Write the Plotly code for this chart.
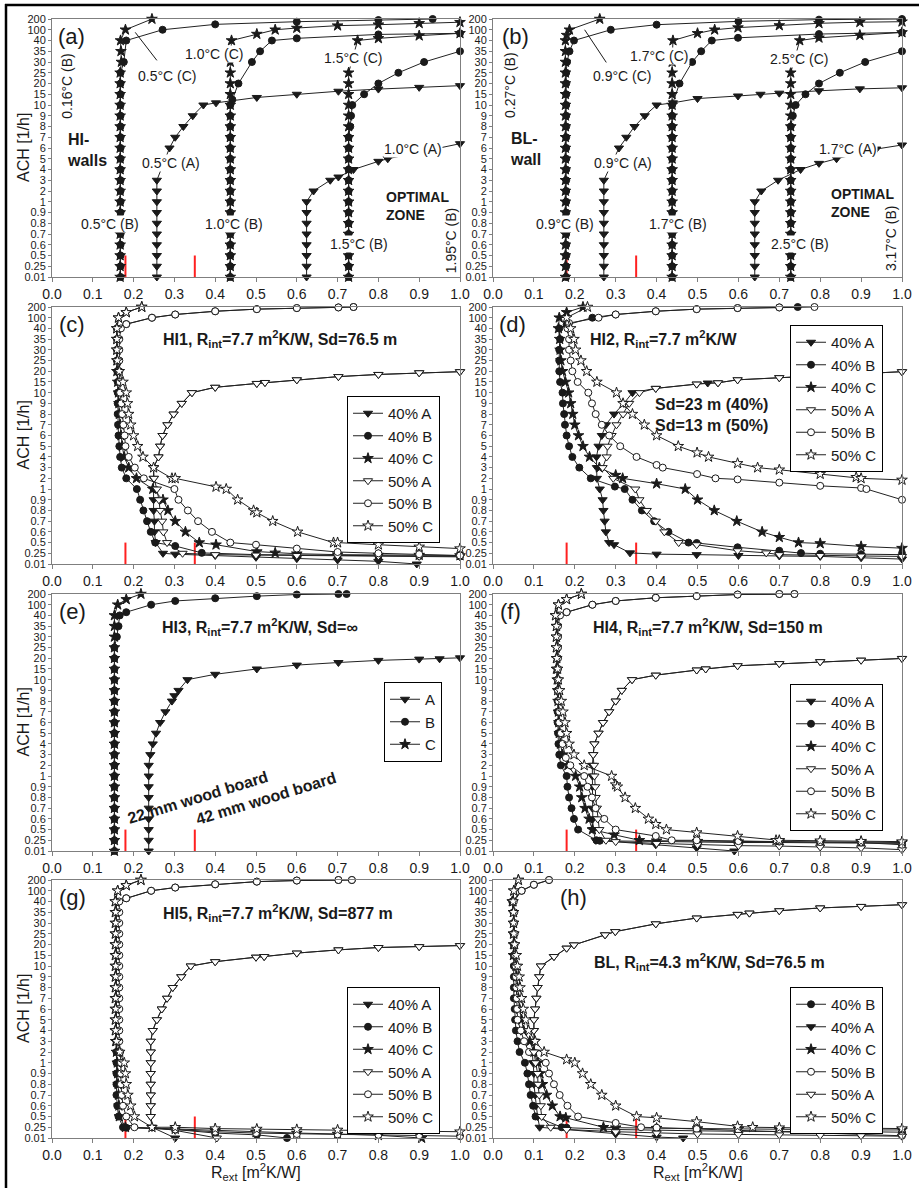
import numpy as np
import plotly.graph_objects as go

FONT = "Liberation Sans, Arial, sans-serif"
INK = "#1a1a1a"
W, H = 919, 1188

# ---------------- axis categories ----------------
ach_ticks = [0.01, 0.25, 0.5, 0.6, 0.7, 0.8, 0.9, 1, 2, 3, 4, 5, 6, 7, 8, 9, 10,
             15, 20, 25, 30, 35, 40, 100, 200]
ach_tick_text = ['0.01', '0.25', '0.5', '0.6', '0.7', '0.8', '0.9', '1', '2', '3', '4',
                 '5', '6', '7', '8', '9', '10', '15', '20', '25', '30', '35', '40', '100', '200']
r_ticks = [0.0, 0.1, 0.2, 0.3, 0.4, 0.5, 0.6, 0.7, 0.8, 0.9, 1.0]
r_tick_text = ['0.0', '0.1', '0.2', '0.3', '0.4', '0.5', '0.6', '0.7', '0.8', '0.9', '1.0']
red_marks_r = [0.18, 0.35]
red_marks_ach = [0.01, 0.5]

# ---------------- (a) HI-walls : (R_ext, ACH) ----------------
a_05B = [(0.168,0.01),(0.168,0.25),(0.168,0.5),(0.168,0.6),(0.168,0.7),(0.168,0.8),(0.168,0.9),(0.168,1),
         (0.168,2),(0.168,3),(0.168,4),(0.168,5),(0.168,6),(0.168,7),(0.168,8),(0.168,9),(0.168,10),
         (0.168,15),(0.168,20),(0.168,25),(0.176,30),(0.182,40),(0.271,100),(0.400,150),(0.600,175),
         (0.800,190),(0.933,200)]
a_05C = [(0.167,0.01),(0.167,0.25),(0.167,0.5),(0.167,0.6),(0.167,0.7),(0.167,0.8),(0.167,0.9),(0.167,1),
         (0.167,2),(0.167,3),(0.167,4),(0.167,5),(0.167,6),(0.167,7),(0.167,8),(0.167,9),(0.167,10),
         (0.167,15),(0.167,20),(0.167,25),(0.170,30),(0.169,35),(0.168,40),(0.180,100),(0.245,200)]
a_05A = [(0.257,0.01),(0.257,0.25),(0.257,0.5),(0.257,0.6),(0.257,0.7),(0.257,0.8),(0.257,0.9),(0.257,1),
         (0.257,2),(0.257,3),(0.288,6),(0.302,7),(0.322,8),(0.345,9),(0.371,10),(0.402,11),(0.502,13.5),
         (0.600,15),(0.702,16.4),(0.800,17.4),(0.900,18.2),(1.000,19)]
a_10B = [(0.437,0.01),(0.437,0.25),(0.437,0.5),(0.437,0.6),(0.437,0.7),(0.437,0.8),(0.437,0.9),(0.437,1),
         (0.437,2),(0.437,3),(0.437,4),(0.437,5),(0.437,6),(0.437,7),(0.437,8),(0.437,9),(0.437,10),
         (0.442,12.5),(0.457,20),(0.490,30),(0.510,35),(0.539,40),(0.600,52),(0.800,74),(1.000,80)]
a_10C = [(0.437,0.01),(0.437,0.25),(0.437,0.5),(0.437,0.6),(0.437,0.7),(0.437,0.8),(0.437,0.9),(0.437,1),
         (0.437,2),(0.437,3),(0.437,4),(0.437,5),(0.437,6),(0.437,7),(0.437,8),(0.437,9),(0.437,10),
         (0.437,15),(0.437,20),(0.437,25),(0.437,30),(0.440,40),(0.502,76),(0.547,100),(0.600,116),
         (0.700,138),(0.800,147),(0.900,160),(1.000,170)]
a_10A = [(0.624,0.01),(0.624,0.25),(0.624,0.5),(0.624,0.6),(0.624,0.7),(0.624,0.8),(0.624,0.9),(0.624,1),
         (0.641,2),(0.682,3),(0.702,3.3),(0.739,4),(0.800,4.76),(0.823,5),(1.000,6.4)]
a_15B = [(0.727,0.01),(0.727,0.25),(0.727,0.5),(0.727,0.6),(0.727,0.7),(0.727,0.8),(0.727,0.9),(0.727,1),
         (0.727,2),(0.727,3),(0.727,4),(0.727,5),(0.727,6),(0.727,7),(0.731,8),(0.733,9),(0.736,10),
         (0.765,15),(0.800,20),(0.849,25),(0.912,30),(1.000,35)]
a_15C = [(0.727,0.01),(0.727,0.25),(0.727,0.5),(0.727,0.6),(0.727,0.7),(0.727,0.8),(0.727,0.9),(0.727,1),
         (0.727,2),(0.727,3),(0.727,4),(0.727,5),(0.727,6),(0.727,7),(0.727,8),(0.727,9),(0.727,10),
         (0.727,15),(0.727,20),(0.727,25),(0.749,40),(0.800,52),(0.900,67),(1.000,80)]

# ---------------- (b) BL-wall ----------------
b_09B = [(0.179,0.01),(0.179,0.25),(0.179,0.5),(0.179,0.6),(0.179,0.7),(0.179,0.8),(0.179,0.9),(0.179,1),
         (0.179,2),(0.179,3),(0.179,4),(0.179,5),(0.179,6),(0.179,7),(0.179,8),(0.179,9),(0.179,10),
         (0.179,15),(0.179,20),(0.179,25),(0.181,30),(0.187,35),(0.198,40),(0.288,100),(0.400,147),
         (0.600,178),(0.797,194),(1.000,200)]
b_09C = [(0.177,0.01),(0.177,0.25),(0.177,0.5),(0.177,0.6),(0.177,0.7),(0.177,0.8),(0.177,0.9),(0.177,1),
         (0.177,2),(0.177,3),(0.177,4),(0.177,5),(0.177,6),(0.177,7),(0.177,8),(0.177,9),(0.177,10),
         (0.177,15),(0.177,20),(0.177,25),(0.177,30),(0.177,35),(0.177,40),(0.180,70),(0.187,100),(0.261,200)]
b_09A = [(0.271,0.01),(0.271,0.25),(0.271,0.5),(0.271,0.6),(0.271,0.7),(0.271,0.8),(0.271,0.9),(0.271,1),
         (0.271,2),(0.271,3),(0.308,6),(0.326,7),(0.346,8),(0.371,9),(0.400,10),(0.440,11),(0.500,13),
         (0.599,14.2),(0.654,15),(0.700,15.5),(0.797,16.6),(0.897,17.5),(1.000,18)]
b_17B = [(0.438,0.01),(0.438,0.25),(0.438,0.5),(0.438,0.6),(0.438,0.7),(0.438,0.8),(0.438,0.9),(0.438,1),
         (0.438,2),(0.438,3),(0.438,4),(0.438,5),(0.438,6),(0.438,7),(0.438,8),(0.438,9),(0.438,10),
         (0.456,20),(0.487,30),(0.509,35),(0.535,40),(0.599,55),(0.797,76),(1.000,85)]
b_17C = [(0.438,0.01),(0.438,0.25),(0.438,0.5),(0.438,0.6),(0.438,0.7),(0.438,0.8),(0.438,0.9),(0.438,1),
         (0.438,2),(0.438,3),(0.438,4),(0.438,5),(0.438,6),(0.438,7),(0.438,8),(0.438,9),(0.438,10),
         (0.438,15),(0.438,20),(0.438,25),(0.438,30),(0.440,40),(0.500,80),(0.542,100),(0.599,120),
         (0.700,140),(0.797,160),(0.897,170),(1.000,175)]
b_17A = [(0.640,0.01),(0.640,0.25),(0.640,0.5),(0.640,0.6),(0.640,0.7),(0.640,0.8),(0.640,0.9),(0.640,1),
         (0.656,2),(0.697,3),(0.752,4),(0.797,4.57),(0.840,5),(0.937,5.9),(1.000,6.28)]
b_25B = [(0.728,0.01),(0.728,0.25),(0.728,0.5),(0.728,0.6),(0.728,0.7),(0.728,0.8),(0.728,0.9),(0.728,1),
         (0.728,2),(0.728,3),(0.728,4),(0.728,5),(0.728,6),(0.728,7),(0.728,8),(0.733,9),(0.740,10),
         (0.764,15),(0.797,20),(0.848,25),(0.910,30),(1.000,35)]
b_25C = [(0.728,0.01),(0.728,0.25),(0.728,0.5),(0.728,0.6),(0.728,0.7),(0.728,0.8),(0.728,0.9),(0.728,1),
         (0.728,2),(0.728,3),(0.728,4),(0.728,5),(0.728,6),(0.728,7),(0.728,8),(0.728,9),(0.728,10),
         (0.728,15),(0.728,20),(0.728,25),(0.750,40),(0.797,55),(0.897,70),(1.000,85)]

# ---------------- (c) HI1 ----------------
c_40A = [(1.000,19.8),(0.900,19.3),(0.800,18.5),(0.702,17.5),(0.600,16),(0.522,14.75),(0.502,14.3),(0.400,12.5),
         (0.343,10),(0.318,9),(0.298,8),(0.283,7),(0.271,6),(0.265,5),(0.261,4),(0.249,3),(0.249,2),(0.249,1),
         (0.249,0.9),(0.249,0.8),(0.251,0.7),(0.251,0.6),(0.254,0.5),(0.272,0.25),(0.302,0.23),(0.400,0.2),
         (0.500,0.16),(0.600,0.13),(0.700,0.1),(0.800,0.07),(0.894,0.01)]
c_40B = [(0.739,200),(0.702,196),(0.600,190),(0.502,180),(0.400,160),(0.302,130),(0.245,100),(0.182,64),
         (0.159,40),(0.159,35),(0.159,30),(0.159,25),(0.160,20),(0.161,15),(0.161,10),(0.161,9),(0.161,8),
         (0.162,7),(0.163,6),(0.165,5),(0.167,4),(0.171,3),(0.182,2),(0.208,1),(0.216,0.9),(0.224,0.8),
         (0.233,0.7),(0.242,0.6),(0.253,0.5),(0.302,0.42),(0.367,0.26),(0.500,0.22),(0.600,0.21),(0.700,0.2),
         (0.800,0.19),(0.900,0.19),(1.000,0.18)]
c_40C = [(0.220,200),(0.182,150),(0.163,100),(0.159,40),(0.159,35),(0.159,30),(0.159,25),(0.159,20),(0.161,15),
         (0.163,10),(0.164,9),(0.165,8),(0.167,7),(0.169,6),(0.172,5),(0.177,4),(0.188,3),(0.207,2),(0.247,1),
         (0.272,0.9),(0.284,0.8),(0.302,0.7),(0.327,0.6),(0.361,0.5),(0.402,0.45),(0.502,0.29),(0.547,0.26),
         (0.600,0.24),(0.700,0.22),(0.800,0.21),(0.900,0.21),(1.000,0.2)]
c_50A = [(1.000,19.8),(0.900,19.3),(0.800,18.5),(0.702,17.5),(0.600,16),(0.522,14.75),(0.502,14.3),(0.400,12.5),
         (0.343,10),(0.318,9),(0.298,8),(0.283,7),(0.271,6),(0.265,5),(0.261,4),(0.249,3),(0.250,2),(0.257,1),
         (0.262,0.9),(0.265,0.8),(0.270,0.7),(0.273,0.6),(0.282,0.5),(0.320,0.25),(0.400,0.22),(0.500,0.21),
         (0.600,0.2),(0.700,0.19),(0.800,0.19),(0.900,0.18),(1.000,0.17)]
c_50B = [(0.739,200),(0.702,196),(0.600,190),(0.502,180),(0.400,160),(0.302,130),(0.245,100),(0.182,64),
         (0.169,40),(0.165,35),(0.165,30),(0.165,25),(0.165,20),(0.166,15),(0.167,10),(0.170,9),(0.172,8),
         (0.175,7),(0.178,6),(0.180,5),(0.188,4),(0.203,3),(0.225,2),(0.300,1),(0.310,0.9),(0.333,0.8),
         (0.358,0.7),(0.392,0.6),(0.437,0.5),(0.500,0.45),(0.600,0.36),(0.700,0.28),(0.800,0.25),(0.900,0.23),
         (1.000,0.2)]
c_50C = [(0.220,200),(0.182,150),(0.163,100),(0.159,40),(0.159,35),(0.159,30),(0.160,25),(0.165,20),(0.174,15),
         (0.182,10),(0.185,9),(0.188,8),(0.193,7),(0.200,6),(0.210,5),(0.223,4),(0.249,3),(0.294,2),(0.302,2),
         (0.402,1.2),(0.427,1),(0.455,0.9),(0.494,0.8),(0.502,0.78),(0.541,0.7),(0.602,0.6),(0.690,0.5),
         (0.700,0.5),(0.800,0.45),(0.900,0.4),(1.000,0.36)]

# ---------------- (d) HI2 ----------------
d_40A = [(1.000,19.8),(0.700,17),(0.598,16),(0.550,14.6),(0.525,14.5),(0.498,14),(0.398,12),(0.341,10),
         (0.320,9),(0.296,8),(0.276,7),(0.266,6),(0.258,5),(0.253,4),(0.254,3),(0.254,2),(0.261,1),(0.268,0.9),
         (0.270,0.8),(0.273,0.7),(0.276,0.6),(0.284,0.5),(0.296,0.45),(0.335,0.26),(0.400,0.23),(0.498,0.22),
         (0.600,0.2),(0.700,0.19),(0.800,0.18),(0.900,0.15),(1.000,0.12)]
d_40B = [(0.745,200),(0.700,196),(0.598,190),(0.498,180),(0.398,160),(0.300,130),(0.243,100),(0.180,60),
         (0.162,40),(0.164,35),(0.162,30),(0.162,25),(0.162,20),(0.164,15),(0.170,10),(0.171,9),(0.174,8),
         (0.176,7),(0.180,6),(0.186,5),(0.194,4),(0.211,3),(0.239,2),(0.298,1.23),(0.322,1),(0.341,0.9),
         (0.364,0.8),(0.394,0.7),(0.429,0.6),(0.478,0.5),(0.498,0.49),(0.598,0.39),(0.700,0.31),(0.753,0.255),
         (0.800,0.24),(0.900,0.23),(1.000,0.22)]
d_40C = [(0.220,200),(0.180,150),(0.162,100),(0.160,40),(0.163,35),(0.164,30),(0.166,25),(0.170,20),(0.177,15),
         (0.185,10),(0.190,9),(0.195,8),(0.200,7),(0.209,6),(0.220,5),(0.236,4),(0.260,3),(0.300,2.3),(0.317,2),
         (0.400,1.5),(0.470,1),(0.500,0.9),(0.541,0.8),(0.596,0.7),(0.658,0.6),(0.700,0.55),(0.747,0.5),
         (0.800,0.48),(0.900,0.41),(1.000,0.37)]
d_50A = [(1.000,19.8),(0.700,17),(0.598,16),(0.550,14.6),(0.498,14),(0.398,12),(0.358,10),(0.333,9),(0.318,8),
         (0.302,7),(0.290,6),(0.280,5),(0.278,4),(0.268,3),(0.294,2),(0.348,1),(0.358,0.9),(0.376,0.8),
         (0.398,0.7),(0.419,0.6),(0.454,0.5),(0.498,0.45),(0.598,0.31),(0.668,0.26),(0.700,0.22),(0.800,0.2),
         (0.900,0.19),(1.000,0.18)]
d_50B = [(0.786,200),(0.700,196),(0.598,190),(0.498,180),(0.398,160),(0.300,130),(0.258,100),(0.186,70),
         (0.182,40),(0.186,35),(0.186,30),(0.190,25),(0.194,20),(0.207,15),(0.233,10),(0.242,9),(0.251,8),
         (0.266,7),(0.284,6),(0.311,5),(0.351,4),(0.400,3.25),(0.415,3),(0.499,2.4),(0.544,2),(0.598,1.9),
         (0.700,1.6),(0.800,1.3),(0.900,1.1),(0.913,1),(1.000,0.9)]
d_50C = [(0.231,200),(0.180,100),(0.190,40),(0.198,35),(0.202,30),(0.215,25),(0.229,20),(0.254,15),(0.302,10),
         (0.318,9),(0.341,8),(0.370,7),(0.400,6),(0.453,5),(0.499,4.4),(0.527,4),(0.598,3.4),(0.647,3),
         (0.700,2.8),(0.800,2.4),(0.888,2.1),(0.900,2),(1.000,1.85)]

# ---------------- (e) HI3 ----------------
e_A = [(0.237,0.01),(0.237,0.25),(0.237,0.5),(0.237,0.6),(0.237,0.7),(0.237,0.8),(0.237,0.9),(0.237,1),
       (0.237,2),(0.241,3),(0.247,4),(0.255,5),(0.265,6),(0.278,7),(0.294,8),(0.300,8.5),(0.310,9),(0.332,10),
       (0.400,12.5),(0.502,15),(0.600,16.8),(0.702,18),(0.800,19),(0.900,19.6),(0.950,19.75),(1.000,20.2)]
e_B = [(0.153,0.01),(0.153,0.25),(0.153,0.5),(0.153,0.6),(0.153,0.7),(0.153,0.8),(0.153,0.9),(0.153,1),
       (0.153,2),(0.153,3),(0.153,4),(0.153,5),(0.153,6),(0.153,7),(0.153,8),(0.153,9),(0.153,10),
       (0.153,15),(0.153,20),(0.153,25),(0.159,30),(0.163,35),(0.166,40),(0.182,58),(0.243,100),(0.302,135),
       (0.400,160),(0.502,180),(0.600,195),(0.702,200),(0.722,200)]
e_C = [(0.153,0.01),(0.153,0.25),(0.153,0.5),(0.153,0.6),(0.153,0.7),(0.153,0.8),(0.153,0.9),(0.153,1),
       (0.153,2),(0.153,3),(0.153,4),(0.153,5),(0.153,6),(0.153,7),(0.153,8),(0.153,9),(0.153,10),
       (0.153,15),(0.153,20),(0.153,25),(0.153,30),(0.153,35),(0.153,40),(0.161,100),(0.182,150),(0.218,200)]

# ---------------- (f) HI4 ----------------
f_40A = [(1.000,19.9),(0.900,19.1),(0.800,18.4),(0.700,17.5),(0.598,16.5),(0.520,15),(0.498,14.5),(0.398,12.1),
         (0.340,10),(0.315,9),(0.300,8),(0.284,7),(0.269,6),(0.258,5),(0.248,4),(0.245,3),(0.243,2),(0.243,1),
         (0.243,0.9),(0.243,0.8),(0.243,0.7),(0.244,0.6),(0.245,0.5),(0.251,0.25),(0.398,0.15),(0.498,0.08),
         (0.590,0.01)]
f_40B = [(0.737,200),(0.700,200),(0.598,195),(0.498,180),(0.398,165),(0.300,135),(0.243,100),(0.180,58),
         (0.158,40),(0.158,35),(0.158,30),(0.158,25),(0.158,20),(0.158,15),(0.158,10),(0.158,9),(0.158,8),
         (0.158,7),(0.158,6),(0.159,5),(0.160,4),(0.162,3),(0.166,2),(0.180,1),(0.182,0.9),(0.186,0.8),
         (0.192,0.7),(0.198,0.6),(0.208,0.5),(0.253,0.25),(0.261,0.24),(0.400,0.22),(0.500,0.21),(0.600,0.2),
         (0.700,0.2),(0.800,0.19),(0.900,0.19),(1.000,0.18)]
f_40C = [(0.216,200),(0.180,150),(0.160,100),(0.153,40),(0.155,35),(0.155,30),(0.155,25),(0.155,20),(0.155,15),
         (0.157,10),(0.158,9),(0.159,8),(0.160,7),(0.161,6),(0.162,5),(0.165,4),(0.170,3),(0.183,2),(0.202,1),
         (0.212,0.9),(0.217,0.8),(0.225,0.7),(0.235,0.6),(0.243,0.5),(0.296,0.38),(0.358,0.25),(0.400,0.24),
         (0.500,0.23),(0.600,0.22),(0.700,0.22),(0.800,0.21),(0.900,0.21),(1.000,0.2)]
f_50A = [(1.000,19.9),(0.900,19.1),(0.800,18.4),(0.700,17.5),(0.598,16.5),(0.520,15),(0.498,14.5),(0.398,12.1),
         (0.340,10),(0.315,9),(0.300,8),(0.284,7),(0.269,6),(0.258,5),(0.248,4),(0.245,3),(0.247,2),(0.248,1),
         (0.250,0.9),(0.251,0.8),(0.254,0.7),(0.256,0.6),(0.260,0.5),(0.276,0.25),(0.300,0.22),(0.400,0.18),
         (0.500,0.15),(0.600,0.13),(0.700,0.12),(0.800,0.1),(0.900,0.08),(1.000,0.04)]
f_50B = [(0.737,200),(0.700,200),(0.598,195),(0.498,180),(0.398,165),(0.300,135),(0.243,100),(0.180,58),
         (0.164,40),(0.159,35),(0.159,30),(0.159,25),(0.159,20),(0.159,15),(0.159,10),(0.159,9),(0.160,8),
         (0.162,7),(0.162,6),(0.166,5),(0.170,4),(0.178,2.7),(0.189,2),(0.223,1),(0.231,0.9),(0.242,0.8),
         (0.251,0.7),(0.272,0.6),(0.300,0.5),(0.398,0.35),(0.437,0.25),(0.498,0.25),(0.600,0.23),(0.700,0.22),
         (0.800,0.21),(0.900,0.2),(1.000,0.15)]
f_50C = [(0.216,200),(0.180,150),(0.160,100),(0.153,40),(0.155,35),(0.155,30),(0.155,25),(0.156,20),(0.158,15),
         (0.160,10),(0.163,9),(0.167,8),(0.171,7),(0.176,6),(0.180,5),(0.186,4),(0.198,3),(0.223,2),(0.290,1),
         (0.300,0.92),(0.304,0.9),(0.323,0.8),(0.348,0.7),(0.380,0.6),(0.398,0.55),(0.424,0.5),(0.498,0.43),
         (0.598,0.35),(0.692,0.25),(0.700,0.25),(0.800,0.24),(0.900,0.23),(1.000,0.22)]

# ---------------- (g) HI5 ----------------
g_40A = [(1.000,19.5),(0.900,19),(0.800,18.6),(0.702,17.5),(0.600,16),(0.520,14.4),(0.500,14.1),(0.400,12),
         (0.340,10),(0.317,9),(0.296,8),(0.282,7),(0.269,6),(0.257,5),(0.247,4),(0.242,3),(0.242,2),(0.242,1),
         (0.242,0.9),(0.242,0.8),(0.242,0.7),(0.242,0.6),(0.242,0.5),(0.245,0.25),(0.302,0.01)]
g_40B = [(0.735,200),(0.702,200),(0.600,195),(0.502,185),(0.400,160),(0.302,130),(0.243,100),(0.182,58),
         (0.158,40),(0.158,35),(0.158,30),(0.158,25),(0.158,20),(0.158,15),(0.158,10),(0.158,9),(0.158,8),
         (0.158,7),(0.158,6),(0.158,5),(0.158,4),(0.158,3),(0.158,2),(0.158,1),(0.158,0.9),(0.158,0.8),
         (0.158,0.7),(0.160,0.6),(0.163,0.5),(0.174,0.25),(0.182,0.24),(0.302,0.2),(0.400,0.12),(0.502,0.08),
         (0.576,0.01)]
g_40C = [(0.218,200),(0.182,150),(0.161,100),(0.155,40),(0.155,35),(0.155,30),(0.155,25),(0.155,20),(0.155,15),
         (0.155,10),(0.155,9),(0.155,8),(0.155,7),(0.155,6),(0.155,5),(0.155,4),(0.156,3),(0.158,2),(0.160,1),
         (0.161,0.9),(0.162,0.8),(0.163,0.7),(0.164,0.6),(0.165,0.5),(0.180,0.25),(0.302,0.21),(0.400,0.17),
         (0.500,0.14),(0.600,0.12),(0.700,0.1),(0.800,0.07),(0.906,0.01)]
g_50A = [(1.000,19.5),(0.900,19),(0.800,18.6),(0.702,17.5),(0.600,16),(0.520,14.4),(0.500,14.1),(0.400,12),
         (0.340,10),(0.317,9),(0.296,8),(0.282,7),(0.269,6),(0.257,5),(0.247,4),(0.242,3),(0.242,2),(0.242,1),
         (0.242,0.9),(0.242,0.8),(0.242,0.7),(0.242,0.6),(0.242,0.5),(0.245,0.25),(0.302,0.18),(0.404,0.01)]
g_50B = [(0.735,200),(0.702,200),(0.600,195),(0.502,185),(0.400,160),(0.302,130),(0.243,100),(0.182,58),
         (0.165,40),(0.165,35),(0.165,30),(0.165,25),(0.165,20),(0.165,15),(0.165,10),(0.165,9),(0.165,8),
         (0.165,7),(0.165,6),(0.165,5),(0.165,4),(0.165,3),(0.167,2),(0.169,1),(0.169,0.9),(0.169,0.8),
         (0.171,0.7),(0.174,0.6),(0.182,0.5),(0.202,0.25),(0.302,0.2),(0.400,0.15),(0.500,0.12),(0.600,0.1),
         (0.700,0.09),(0.800,0.08),(0.900,0.07),(1.000,0.05)]
g_50C = [(0.218,200),(0.182,150),(0.161,100),(0.155,40),(0.156,35),(0.156,30),(0.156,25),(0.156,20),(0.156,15),
         (0.156,10),(0.156,9),(0.156,8),(0.156,7),(0.156,6),(0.156,5),(0.156,4),(0.158,3),(0.166,2),(0.177,1),
         (0.180,0.9),(0.182,0.8),(0.186,0.7),(0.193,0.6),(0.202,0.5),(0.245,0.25),(0.302,0.25),(0.400,0.22),
         (0.502,0.21),(0.600,0.2),(0.700,0.19),(0.800,0.18),(0.900,0.17),(1.000,0.15)]

# ---------------- (h) BL ----------------
h_40B = [(0.137,200),(0.100,156),(0.070,100),(0.047,40),(0.050,35),(0.050,30),(0.050,25),(0.051,20),(0.051,15),
         (0.051,10),(0.051,9),(0.051,8),(0.051,7),(0.053,6),(0.054,5),(0.056,4),(0.060,3),(0.065,2),(0.078,1),
         (0.084,0.9),(0.088,0.8),(0.092,0.7),(0.098,0.6),(0.104,0.5),(0.168,0.25),(0.180,0.24),(0.300,0.2),
         (0.400,0.18),(0.500,0.17),(0.600,0.16),(0.700,0.16),(0.800,0.15),(0.900,0.15),(1.000,0.14)]
h_40A = [(1.000,38.5),(0.900,37.7),(0.800,37),(0.700,35.7),(0.627,34.6),(0.598,34),(0.498,32.3),(0.398,29.6),
         (0.299,26),(0.274,24.5),(0.198,19.8),(0.180,18.3),(0.149,14.4),(0.117,10),(0.113,9),(0.109,8),
         (0.106,7),(0.103,6),(0.100,5),(0.100,4),(0.100,3),(0.096,2),(0.098,1),(0.100,0.9),(0.100,0.8),
         (0.103,0.7),(0.105,0.6),(0.109,0.5),(0.114,0.25),(0.300,0.1),(0.400,0.03),(0.465,0.01)]
h_40C = [(0.062,200),(0.051,100),(0.047,40),(0.050,35),(0.050,30),(0.050,25),(0.050,20),(0.050,15),(0.056,10),
         (0.058,9),(0.060,8),(0.062,7),(0.065,6),(0.070,5),(0.075,4),(0.090,3),(0.100,2),(0.110,1),(0.115,0.9),
         (0.121,0.8),(0.131,0.7),(0.145,0.6),(0.164,0.5),(0.178,0.47),(0.270,0.25),(0.300,0.24),(0.400,0.23),
         (0.500,0.22),(0.600,0.21),(0.700,0.2),(0.800,0.2),(0.900,0.19),(1.000,0.19)]
h_50B = [(0.137,200),(0.100,156),(0.070,100),(0.051,40),(0.052,35),(0.052,30),(0.053,25),(0.053,20),(0.054,15),
         (0.055,10),(0.056,9),(0.057,8),(0.058,7),(0.059,6),(0.060,5),(0.068,4),(0.076,3),(0.088,2),(0.129,1),
         (0.137,0.9),(0.149,0.8),(0.163,0.7),(0.182,0.6),(0.208,0.5),(0.300,0.35),(0.362,0.25),(0.400,0.24),
         (0.498,0.21),(0.600,0.18),(0.700,0.15),(0.800,0.12),(0.900,0.09),(1.000,0.06)]
h_50A = [(1.000,38.5),(0.900,37.7),(0.800,37),(0.700,35.7),(0.627,34.6),(0.598,34),(0.498,32.3),(0.398,29.6),
         (0.299,26),(0.274,24.5),(0.198,19.8),(0.180,18.3),(0.149,14.4),(0.117,10),(0.113,9),(0.109,8),
         (0.106,7),(0.103,6),(0.100,5),(0.100,4),(0.103,3),(0.100,2),(0.104,1),(0.109,0.9),(0.110,0.8),
         (0.113,0.7),(0.117,0.6),(0.119,0.5),(0.141,0.25),(0.180,0.2),(0.300,0.15),(0.400,0.12),(0.500,0.1),
         (0.600,0.09),(0.700,0.08),(0.800,0.07),(0.900,0.06),(1.000,0.05)]
h_50C = [(0.062,200),(0.051,100),(0.049,40),(0.050,35),(0.050,30),(0.051,25),(0.053,20),(0.057,15),(0.060,10),
         (0.064,9),(0.066,8),(0.070,7),(0.074,6),(0.080,5),(0.087,4),(0.103,3),(0.125,2),(0.180,1.3),(0.200,1),
         (0.219,0.9),(0.239,0.8),(0.266,0.7),(0.300,0.6),(0.351,0.5),(0.400,0.47),(0.498,0.38),(0.598,0.27),
         (0.635,0.25),(0.700,0.24),(0.800,0.23),(0.900,0.23),(1.000,0.22)]

# ================= figure =================
def ypos(vals):
    return [float(v) for v in np.interp(vals, ach_ticks, np.arange(len(ach_ticks)))]

SYM = {'A': 'triangle-down', 'B': 'circle', 'C': 'star'}
SIZE = {'A': 8, 'B': 7, 'C': 8}

fig = go.Figure()

def sfx(k):
    return '' if k == 1 else str(k)

def add(k, pts, kind, filled, name=None, legend=None, rank=1000):
    r = [p[0] for p in pts]
    a = [p[1] for p in pts]
    fig.add_trace(go.Scatter(
        x=r, y=ypos(a), mode='lines+markers', name=name,
        xaxis='x' + sfx(k), yaxis='y' + sfx(k), cliponaxis=False,
        showlegend=legend is not None, legend=legend or 'legend', legendrank=rank,
        line=dict(color='#222222', width=1),
        marker=dict(symbol=SYM[kind], size=SIZE[kind],
                    color=INK if filled else 'white',
                    line=dict(color=INK, width=1))))

# (a)
for pts, kd in [(a_05B,'B'),(a_05C,'C'),(a_05A,'A'),(a_10B,'B'),(a_10C,'C'),(a_10A,'A'),(a_15B,'B'),(a_15C,'C')]:
    add(1, pts, kd, True)
# (b)
for pts, kd in [(b_09B,'B'),(b_09C,'C'),(b_09A,'A'),(b_17B,'B'),(b_17C,'C'),(b_17A,'A'),(b_25B,'B'),(b_25C,'C')]:
    add(2, pts, kd, True)

six = [('40% A','A',True),('40% B','B',True),('40% C','C',True),('50% A','A',False),('50% B','B',False),('50% C','C',False)]
for k, lg, sets in [(3,'legend',[c_40A,c_40B,c_40C,c_50A,c_50B,c_50C]),
                    (4,'legend2',[d_40A,d_40B,d_40C,d_50A,d_50B,d_50C]),
                    (6,'legend4',[f_40A,f_40B,f_40C,f_50A,f_50B,f_50C]),
                    (7,'legend5',[g_40A,g_40B,g_40C,g_50A,g_50B,g_50C])]:
    for i, (pts, (nm, kd, fl)) in enumerate(zip(sets, six)):
        add(k, pts, kd, fl, nm, lg, i + 1)
# (e): draw C under B, legend A, B, C
add(5, e_A, 'A', True, 'A', 'legend3', 1)
add(5, e_C, 'C', True, 'C', 'legend3', 3)
add(5, e_B, 'B', True, 'B', 'legend3', 2)
# (h)
h_sets = [(h_40B,'40% B','B',True),(h_40A,'40% A','A',True),(h_40C,'40% C','C',True),
          (h_50B,'50% B','B',False),(h_50A,'50% A','A',False),(h_50C,'50% C','C',False)]
for i, (pts, nm, kd, fl) in enumerate(h_sets):
    add(8, pts, kd, fl, nm, 'legend6', i + 1)

# axes
cols = [(52, 460), (493, 902)]
rows = [(19, 277), (307, 564), (594, 851), (880, 1138)]
lay = {}
for k in range(1, 9):
    row, col = divmod(k - 1, 2)
    x0, x1 = cols[col]
    t, b = rows[row]
    lay['xaxis' + sfx(k)] = dict(
        domain=[x0 / W, x1 / W], range=[0, 1], anchor='y' + sfx(k),
        tickmode='array', tickvals=r_ticks, ticktext=r_tick_text,
        ticks='outside', ticklen=4, tickcolor='#7f7f7f',
        showline=True, linecolor='#7f7f7f', linewidth=1, mirror=True,
        showgrid=False, zeroline=False, automargin=False,
        tickfont=dict(size=14, family=FONT, color=INK))
    lay['yaxis' + sfx(k)] = dict(
        domain=[1 - b / H, 1 - t / H], range=[0, len(ach_ticks) - 1], anchor='x' + sfx(k),
        tickmode='array', tickvals=list(range(len(ach_ticks))), ticktext=ach_tick_text,
        ticks='outside', ticklen=3, tickcolor='#7f7f7f',
        showline=True, linecolor='#7f7f7f', linewidth=1, mirror=True,
        showgrid=False, zeroline=False, automargin=False,
        tickfont=dict(size=11, family=FONT, color=INK))

# legends
leg_common = dict(xanchor='left', yanchor='top', bgcolor='white', bordercolor='black', borderwidth=1,
                  font=dict(size=15, family=FONT, color=INK), itemwidth=30, tracegroupgap=0,
                  traceorder='normal')
lay['legend'] = dict(x=347 / W, y=1 - 396 / H, **leg_common)
lay['legend2'] = dict(x=790 / W, y=1 - 325 / H, **leg_common)
lay['legend3'] = dict(x=384 / W, y=1 - 682 / H, **leg_common)
lay['legend4'] = dict(x=790 / W, y=1 - 684 / H, **leg_common)
lay['legend5'] = dict(x=347 / W, y=1 - 987 / H, **leg_common)
lay['legend6'] = dict(x=790 / W, y=1 - 987 / H, **leg_common)

# annotations
anns = []
def note(k, x, y, text, size=14, bold=False, bg=None, angle=0, xanchor='center', align='center'):
    anns.append(dict(xref='x' + sfx(k), yref='y' + sfx(k), x=x, y=y,
                     text=('<b>%s</b>' % text) if bold else text, showarrow=False,
                     font=dict(size=size, family=FONT, color=INK),
                     bgcolor=bg or 'rgba(0,0,0,0)', borderpad=0, textangle=angle,
                     xanchor=xanchor, yanchor='middle', align=align))

WB = 'white'
# (a)
note(1, 0.012, 22.4, '(a)', size=22, xanchor='left')
note(1, 0.037, 17.8, '0.16°C (B)', angle=-90)
note(1, 0.284, 18.7, '0.5°C (C)', bg=WB)
note(1, 0.398, 20.7, '1.0°C (C)', bg=WB)
note(1, 0.740, 20.4, '1.5°C (C)', bg=WB)
note(1, 0.143, 4.96, '0.5°C (B)', bg=WB)
note(1, 0.445, 4.96, '1.0°C (B)', bg=WB)
note(1, 0.753, 3.07, '1.5°C (B)', bg=WB)
note(1, 0.291, 10.6, '0.5°C (A)', bg=WB)
note(1, 0.886, 11.9, '1.0°C (A)', bg=WB)
note(1, 0.816, 6.6, 'OPTIMAL<br>ZONE', bold=True, xanchor='left', align='left')
note(1, 0.035, 11.8, 'HI-<br>walls', size=16, bold=True, xanchor='left', align='left')
note(1, 0.980, 3.4, '1.95°C (B)', angle=-90)
# (b)
note(2, 0.020, 22.4, '(b)', size=22, xanchor='left')
note(2, 0.040, 17.9, '0.27°C (B)', angle=-90)
note(2, 0.316, 18.7, '0.9°C (C)', bg=WB)
note(2, 0.407, 20.6, '1.7°C (C)', bg=WB)
note(2, 0.750, 20.3, '2.5°C (C)', bg=WB)
note(2, 0.175, 4.9, '0.9°C (B)', bg=WB)
note(2, 0.452, 4.9, '1.7°C (B)', bg=WB)
note(2, 0.750, 3.1, '2.5°C (B)', bg=WB)
note(2, 0.318, 10.6, '0.9°C (A)', bg=WB)
note(2, 0.868, 11.9, '1.7°C (A)', bg=WB)
note(2, 0.823, 6.9, 'OPTIMAL<br>ZONE', bold=True, xanchor='left', align='left')
note(2, 0.039, 11.9, 'BL-<br>wall', size=16, bold=True, xanchor='left', align='left')
note(2, 0.975, 3.6, '3.17°C (B)', angle=-90)
# (c)-(h)
note(3, 0.014, 22.4, '(c)', size=22, xanchor='left')
note(3, 0.559, 21.0, 'HI1, R<sub>int</sub>=7.7 m<sup>2</sup>K/W, Sd=76.5 m', size=16, bold=True)
note(4, 0.011, 22.4, '(d)', size=22, xanchor='left')
note(4, 0.419, 21.0, 'HI2, R<sub>int</sub>=7.7 m<sup>2</sup>K/W', size=16, bold=True)
note(4, 0.394, 13.9, 'Sd=23 m (40%)<br>Sd=13 m (50%)', size=16, bold=True, xanchor='left', align='left')
note(5, 0.014, 22.4, '(e)', size=22, xanchor='left')
note(5, 0.510, 20.9, 'HI3, R<sub>int</sub>=7.7 m<sup>2</sup>K/W, Sd=∞', size=16, bold=True)
note(5, 0.357, 5.0, '22 mm wood board', size=16, bold=True, angle=-17)
note(5, 0.524, 4.94, '42 mm wood board', size=16, bold=True, angle=-17)
note(6, 0.015, 22.4, '(f)', size=22, xanchor='left')
note(6, 0.525, 20.9, 'HI4, R<sub>int</sub>=7.7 m<sup>2</sup>K/W, Sd=150 m', size=16, bold=True)
note(7, 0.014, 22.4, '(g)', size=22, xanchor='left')
note(7, 0.555, 20.9, 'HI5, R<sub>int</sub>=7.7 m<sup>2</sup>K/W, Sd=877 m', size=16, bold=True)
note(8, 0.162, 22.4, '(h)', size=22, xanchor='left')
note(8, 0.529, 16.4, 'BL, R<sub>int</sub>=4.3 m<sup>2</sup>K/W, Sd=76.5 m', size=16, bold=True)

# axis titles
for (t, b) in rows:
    anns.append(dict(xref='paper', yref='paper', x=23 / W, y=1 - (t + b) / 2 / H, text='ACH [1/h]',
                     textangle=-90, showarrow=False, xanchor='center', yanchor='middle',
                     font=dict(size=16, family=FONT, color=INK)))
for (x0, x1) in cols:
    anns.append(dict(xref='paper', yref='paper', x=(x0 + x1) / 2 / W, y=1 - 1172 / H,
                     text='R<sub>ext</sub> [m<sup>2</sup>K/W]', showarrow=False,
                     xanchor='center', yanchor='middle',
                     font=dict(size=16, family=FONT, color=INK)))

# shapes: red wood-board marks, leader lines, frame
shapes = []
ry = ypos(red_marks_ach)
for k in range(1, 9):
    for xr in red_marks_r:
        shapes.append(dict(type='line', xref='x' + sfx(k), yref='y' + sfx(k), x0=xr, x1=xr,
                           y0=ry[0], y1=ry[1], line=dict(color='#ff2020', width=2), layer='below'))
shapes.append(dict(type='line', xref='x', yref='y', x0=0.257, y0=20.15, x1=0.204, y1=22.76,
                   line=dict(color=INK, width=1)))
shapes.append(dict(type='line', xref='x2', yref='y2', x0=0.277, y0=19.96, x1=0.224, y1=23.0,
                   line=dict(color=INK, width=1)))
shapes.append(dict(type='line', xref='paper', yref='paper', x0=6 / W, x1=6 / W, y0=0, y1=1 - 4 / H,
                   line=dict(color='black', width=2.5)))
shapes.append(dict(type='line', xref='paper', yref='paper', x0=5 / W, x1=1, y0=1 - 5 / H, y1=1 - 5 / H,
                   line=dict(color='black', width=2.5)))

fig.update_layout(width=W, height=H, autosize=False,
                  margin=dict(l=0, r=0, t=0, b=0, pad=0, autoexpand=False),
                  paper_bgcolor='white', plot_bgcolor='white',
                  font=dict(family=FONT, color=INK),
                  annotations=anns, shapes=shapes, **lay)

fig.write_html("out.html", config={'displayModeBar': False},
               post_script="document.body.style.margin='0';document.body.style.overflow='hidden';")
